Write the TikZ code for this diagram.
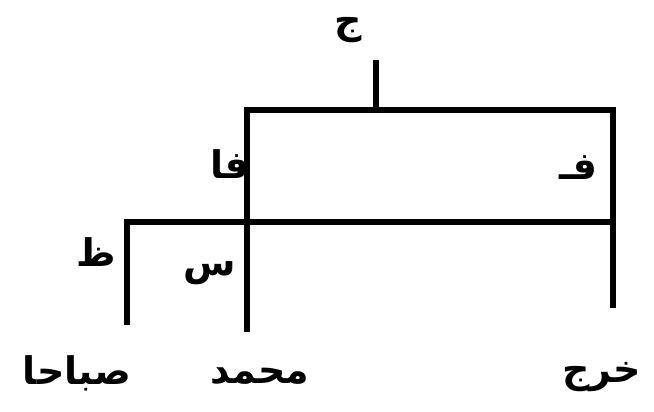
\documentclass[tikz,border=0pt]{standalone}
\usepackage{fontspec}
\TeXXeTstate=1
\newfontfamily\arabicfont[Script=Arabic]{DejaVu Sans}
\tikzset{
  lbl/.style={inner sep=0pt, font=\arabicfont\bfseries\fontsize{38}{44}\selectfont},
  branch/.style={line width=5.5pt, line cap=butt, line join=miter},
}
\begin{document}
\begin{tikzpicture}[x=1pt,y=-1pt]
\useasboundingbox (0,0) rectangle (654,412);
\clip (0,0) rectangle (654,412);
% labels
\node[lbl] (j) at (348,30) {\beginR ج\endR};
\node[lbl] (fa) at (230,164) {\beginR فا\endR};
\node[lbl] (f) at (578,168) {\beginR فـ\endR};
\node[lbl] (z) at (96,252) {\beginR ظ\endR};
\node[lbl] (s) at (210,273) {\beginR س\endR};
\node[lbl, anchor=base] (sabah) at (77,384) {\beginR صباحا\endR};
\node[lbl, anchor=base] (muh) at (260,383) {\beginR محمد\endR};
\node[lbl, anchor=base west] (kh) at (562,382) {\beginR خرج\endR};
% tree points
\coordinate (jtop) at (376,60);
\coordinate (jbot) at (376,110);
\coordinate (tl) at (247,110);
\coordinate (tr) at (613,110);
\coordinate (lbot) at (247,332);
\coordinate (rbot) at (613,308);
\coordinate (ml) at (127,222);
\coordinate (mr) at (613,222);
\coordinate (mbot) at (127,325);
% branches
\draw[branch] (jtop) -- (jbot);
\draw[branch] (lbot) -- (tl) -- (tr) -- (rbot);
\draw[branch] (mbot) -- (ml) -- (mr);
\end{tikzpicture}
\end{document}
